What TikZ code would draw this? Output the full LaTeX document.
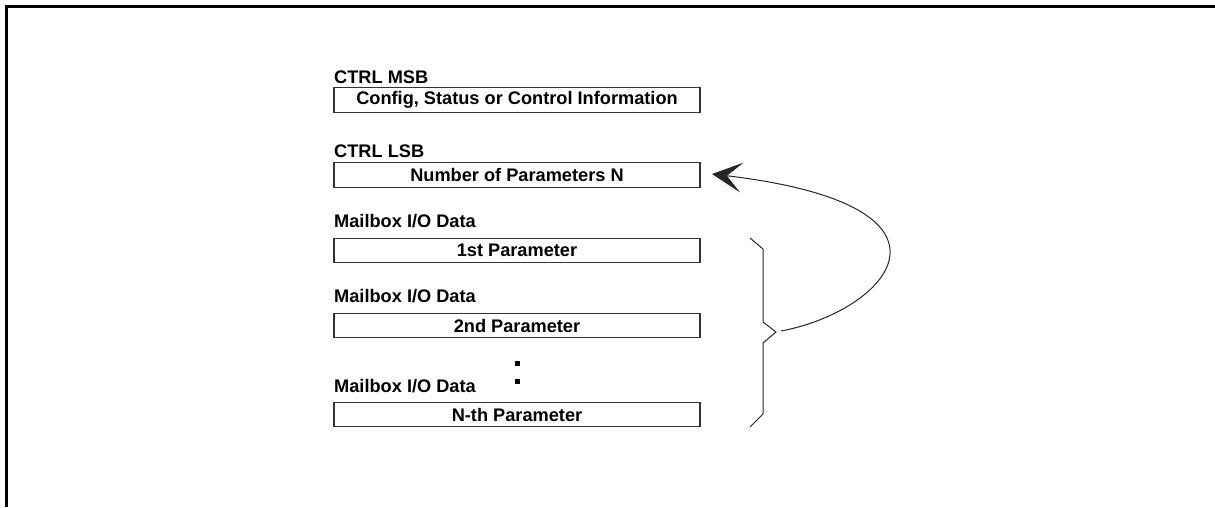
\documentclass[tikz,border=0pt]{standalone}
\usepackage{fontspec}
\setmainfont{Liberation Sans}
\usetikzlibrary{arrows.meta}
\begin{document}
\begin{tikzpicture}[x=1pt,y=-1pt,
  regbox/.style={draw=black!80,line width=1.1pt,minimum width=366pt,minimum height=24.5pt,inner sep=0pt,
    font=\fontsize{18.2}{20}\selectfont\bfseries},
  reglabel/.style={anchor=base west,inner sep=0pt,font=\fontsize{18.2}{20}\selectfont\bfseries},
  dotsq/.style={fill=black,minimum size=5pt,inner sep=0pt},
  conn/.style={draw=black!85,line width=1pt}]
\useasboundingbox (0,0) rectangle (1215,507);
% frame
\draw[line width=2.3pt] (6.5,507) -- (6.5,6.5) -- (1215,6.5);
% labels
\node[reglabel] (l1) at (334,83) {CTRL MSB};
\node[reglabel] (l2) at (334,157) {CTRL LSB};
\node[reglabel] (l3) at (334,227) {Mailbox I/O Data};
\node[reglabel] (l4) at (334,302) {Mailbox I/O Data};
\node[reglabel] (l5) at (334,392) {Mailbox I/O Data};
% boxes
\node[regbox] (b1) at (517,100) {Config, Status or Control Information};
\node[regbox] (b2) at (517,175) {Number of Parameters N};
\node[regbox] (b3) at (517,250.5) {1st Parameter};
\node[regbox] (b4) at (517,325.5) {2nd Parameter};
\node[regbox] (b5) at (517,414.5) {N-th Parameter};
% dots
\node[dotsq] (d1) at (517.5,363.5) {};
\node[dotsq] (d2) at (517.5,381.5) {};
% brace
\draw[conn] (750,238) -- (763,249) -- (763,322) -- (776,332) -- (763,343) -- (763,414) -- (750,427);
\coordinate (bracetip) at (781,331);
\coordinate (arrowend) at (712,174);
\draw[conn,-{Stealth[length=30pt,width=30pt,inset=15pt]}] (bracetip) .. controls (888,311) and (982,206) .. (arrowend);
\end{tikzpicture}
\end{document}
